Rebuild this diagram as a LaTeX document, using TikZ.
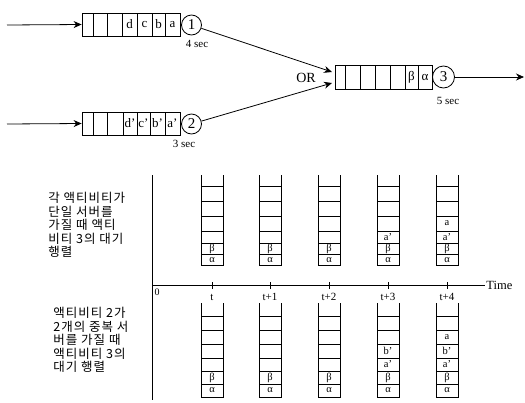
\documentclass[tikz,border=0pt]{standalone}
\usepackage{fontspec}
\setmainfont{Liberation Serif}
\newfontfamily\kr[LetterSpace=8]{Noto Sans CJK KR}
\usetikzlibrary{arrows.meta}
\begin{document}
\begin{tikzpicture}[x=1pt,y=-1pt,line width=0.8pt,
  arr/.style={-{Stealth[length=8pt,width=7pt]}},
  srv/.style={circle,draw,inner sep=0pt,minimum size=20pt,font=\fontsize{15}{15}\selectfont},
  qbox/.style={draw,inner sep=0pt,minimum height=23pt},
  lab/.style={inner sep=0pt,font=\fontsize{13}{13}\selectfont},
  stk/.style={inner sep=0pt,font=\fontsize{10.5}{10.5}\selectfont},
  slab/.style={inner sep=0pt,font=\fontsize{11}{11}\selectfont},
  sec/.style={inner sep=0pt,font=\fontsize{11}{11}\selectfont},
  ktext/.style={inner sep=0pt,align=left,anchor=west,font=\kr\fontsize{12.5}{13.5}\selectfont}]
\useasboundingbox (0,0) rectangle (525,402);

% ---- queue 1 ----
\node[qbox,minimum width=98pt] (q1) at (131,24.5) {};
\foreach \x in {93,107,122,137,152,165} \draw (\x,13) -- (\x,36);
\node[lab] (q1d) at (129.5,24.5) {d};
\node[lab] (q1c) at (144.5,24.5) {c};
\node[lab] (q1b) at (158.5,24.5) {b};
\node[lab] (q1a) at (172.5,24.5) {a};
\node[srv] (c1) at (191.5,25) {1};
\node[sec] (s1) at (197,44) {4 sec};
\coordinate (in1) at (7,25);
\draw[arr] (in1) -- (q1.west);

% ---- queue 2 ----
\node[qbox,minimum width=98pt] (q2) at (131,123.5) {};
\foreach \x in {93,107,123,137,150,165} \draw (\x,112) -- (\x,135);
\node[lab] (q2d) at (130,123.5) {d’};
\node[lab] (q2c) at (143.5,123.5) {c’};
\node[lab] (q2b) at (157.5,123.5) {b’};
\node[lab] (q2a) at (172.5,123.5) {a’};
\node[srv] (c2) at (191.5,124) {2};
\node[sec] (s2) at (184,144) {3 sec};
\coordinate (in2) at (7,124);
\draw[arr] (in2) -- (q2.west);

% ---- queue 3 ----
\node[qbox,minimum width=97pt,minimum height=24pt] (q3) at (383.5,77) {};
\foreach \x in {345,360,375,390,405,418} \draw (\x,65) -- (\x,89);
\node[lab] (q3b) at (411.5,77) {β};
\node[lab] (q3a) at (425,77) {α};
\node[srv,minimum size=22pt] (c3) at (443.5,77) {3};
\node[sec] (s3) at (448,101) {5 sec};
\coordinate (or1) at (332,72);
\coordinate (or2) at (332,83);
\draw[arr] (c1) -- (or1);
\draw[arr] (c2) -- (or2);
\node[inner sep=0pt,font=\fontsize{14}{14}\selectfont] (or) at (306,78) {OR};
\coordinate (out) at (524,77);
\draw[arr] (c3) -- (out);

% ---- axes ----
\coordinate (ytop) at (152,175);
\coordinate (ybot) at (152,400);
\coordinate (tend) at (485,285);
\coordinate (org) at (152,285);
\draw (ytop) -- (ybot);
\draw (org) -- (tend);
\node[inner sep=1pt,anchor=west,font=\fontsize{12.5}{12.5}\selectfont] (time) at (tend) {Time};
\node[inner sep=0pt,font=\fontsize{10}{10}\selectfont] (zero) at (157,292) {0};
\foreach \xc/\t [count=\i] in {212/t,270/t+1,329/t+2,388/t+3,447/t+4} {
  \draw (\xc,282) -- (\xc,289);
  \node[slab] (tl\i) at (\xc,297) {\t};
  % upper stack
  \draw ({\xc-11},175) -- ({\xc-11},265) -- ({\xc+11},265) -- ({\xc+11},175);
  \foreach \y in {186,201,216,231,243,254} \draw ({\xc-11},\y) -- ({\xc+11},\y);
  % lower stack
  \draw ({\xc-11},303) -- ({\xc-11},397) -- ({\xc+11},397) -- ({\xc+11},303);
  \foreach \y in {316,330,344,358,371,384} \draw ({\xc-11},\y) -- ({\xc+11},\y);
  \node[stk] (ua\i) at (\xc,260) {α};
  \node[stk] (ub\i) at (\xc,248.5) {β};
  \node[stk] (la\i) at (\xc,390.5) {α};
  \node[stk] (lb\i) at (\xc,377.5) {β};
}
\node[stk] (u4a1) at (388,237) {a’};
\node[stk] (u5a1) at (447,237) {a’};
\node[stk] (u5a) at (447,223.5) {a};
\node[stk] (l4a1) at (388,364.5) {a’};
\node[stk] (l4b1) at (388,351) {b’};
\node[stk] (l5a1) at (447,364.5) {a’};
\node[stk] (l5b1) at (447,351) {b’};
\node[stk] (l5a) at (447,337) {a};

% ---- Korean texts ----
\node[ktext] (kup) at (48,225) {각 액티비티가\\단일 서버를\\가질 때 액티\\비티 3의 대기\\행렬};
\node[ktext] (klo) at (53,340) {액티비티 2가\\2개의 중복 서\\버를 가질 때\\액티비티 3의\\대기 행렬};
\end{tikzpicture}
\end{document}
